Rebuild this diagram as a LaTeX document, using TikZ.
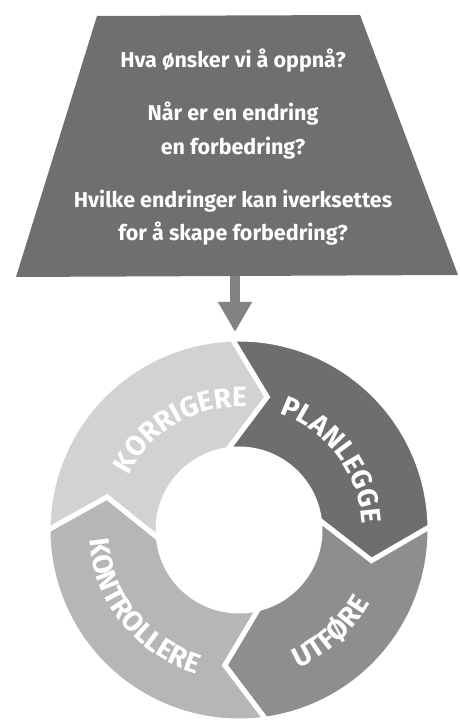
\documentclass[tikz,border=0pt]{standalone}
\usepackage{fontspec}
\setmainfont{Fira Sans}
\usetikzlibrary{arrows.meta,decorations.text}
\definecolor{trapgray}{HTML}{6F6F6F}
\definecolor{arrowgray}{HTML}{828282}
\definecolor{korrcol}{HTML}{D2D2D2}
\definecolor{plancol}{HTML}{6E6E6E}
\definecolor{utfcol}{HTML}{8E8E8E}
\definecolor{kontrcol}{HTML}{B6B6B6}
\newcommand{\qfont}{\bfseries\fontsize{21.5}{26}\selectfont}
\newcommand{\rfont}{\bfseries\fontsize{28}{28}\selectfont}
\tikzset{
  question/.style={text=white, font=\qfont, inner sep=0pt, anchor=base},
  segment/.style={draw=white, line width=5pt, line join=miter},
  feedarrow/.style={draw=arrowgray, line width=10pt, -{Triangle[width=32pt,length=30pt]}},
}
\begin{document}
\begin{tikzpicture}[x=1pt,y=1pt]
\useasboundingbox (0,0) rectangle (459,720);
% trapezoid
\coordinate (tl) at (97,704);
\coordinate (tr) at (360,705);
\coordinate (br) at (458,445);
\coordinate (bl) at (16,443);
\fill[trapgray] (tl) -- (tr) -- (br) -- (bl) -- cycle;
\node[question] (q1) at (233,652) {Hva ønsker vi å oppnå?};
\node[question] (q2a) at (233,599) {Når er en endring};
\node[question] (q2b) at (233,565) {en forbedring?};
\node[question] (q3a) at (233,512) {Hvilke endringer kan iverksettes};
\node[question] (q3b) at (233,479) {for å skape forbedring?};
% arrow
\coordinate (abase) at (235,444);
\coordinate (atip) at (235,388);
\draw[feedarrow] (abase) -- (atip);
% ring
\coordinate (c) at (239,190);
\begin{scope}[shift={(c)}]
\def\Ro{191}\def\Rm{136}\def\Ri{81}
% KORRIGERE: 180 -> 92
\fill[korrcol] (180:\Ro) arc[start angle=180,end angle=92,radius=\Ro] -- (78:\Rm) -- (98:\Ri) arc[start angle=98,end angle=186,radius=\Ri] -- (166:\Rm) -- cycle;
\draw[segment] (180:\Ro) arc[start angle=180,end angle=92,radius=\Ro] -- (78:\Rm) -- (98:\Ri) arc[start angle=98,end angle=186,radius=\Ri] -- (166:\Rm) -- cycle;
% PLANLEGGE: 92 -> 1
\fill[plancol] (92:\Ro) arc[start angle=92,end angle=1,radius=\Ro] -- (-13:\Rm) -- (7:\Ri) arc[start angle=7,end angle=98,radius=\Ri] -- (78:\Rm) -- cycle;
\draw[segment] (92:\Ro) arc[start angle=92,end angle=1,radius=\Ro] -- (-13:\Rm) -- (7:\Ri) arc[start angle=7,end angle=98,radius=\Ri] -- (78:\Rm) -- cycle;
% UTFORE: 1 -> -82
\fill[utfcol] (1:\Ro) arc[start angle=1,end angle=-82,radius=\Ro] -- (-96:\Rm) -- (-76:\Ri) arc[start angle=-76,end angle=7,radius=\Ri] -- (-13:\Rm) -- cycle;
\draw[segment] (1:\Ro) arc[start angle=1,end angle=-82,radius=\Ro] -- (-96:\Rm) -- (-76:\Ri) arc[start angle=-76,end angle=7,radius=\Ri] -- (-13:\Rm) -- cycle;
% KONTROLLERE: -82 -> -180
\fill[kontrcol] (-82:\Ro) arc[start angle=-82,end angle=-180,radius=\Ro] -- (-194:\Rm) -- (-174:\Ri) arc[start angle=-174,end angle=-76,radius=\Ri] -- (-96:\Rm) -- cycle;
\draw[segment] (-82:\Ro) arc[start angle=-82,end angle=-180,radius=\Ro] -- (-194:\Rm) -- (-174:\Ri) arc[start angle=-174,end angle=-76,radius=\Ri] -- (-96:\Rm) -- cycle;
% labels
\path[decorate, decoration={text along path, text align=center, text color=white, text={|\rfont|KORRIGERE}}]
  (165:123) arc[start angle=165,end angle=75,radius=123];
\path[decorate, decoration={text along path, text align=center, text color=white, text={|\rfont|PLANLEGGE}}]
  (82:123) arc[start angle=82,end angle=-8,radius=123];
\path[decorate, decoration={text along path, text align=center, text color=white, text={|\rfont|UTFØRE}}]
  (-93:150) arc[start angle=-93,end angle=-3,radius=150];
\path[decorate, decoration={text along path, text align=center, text color=white, text={|\rfont|KONTROLLERE}}]
  (168:150) arc[start angle=168,end angle=269,radius=150];
\end{scope}
\end{tikzpicture}
\end{document}
